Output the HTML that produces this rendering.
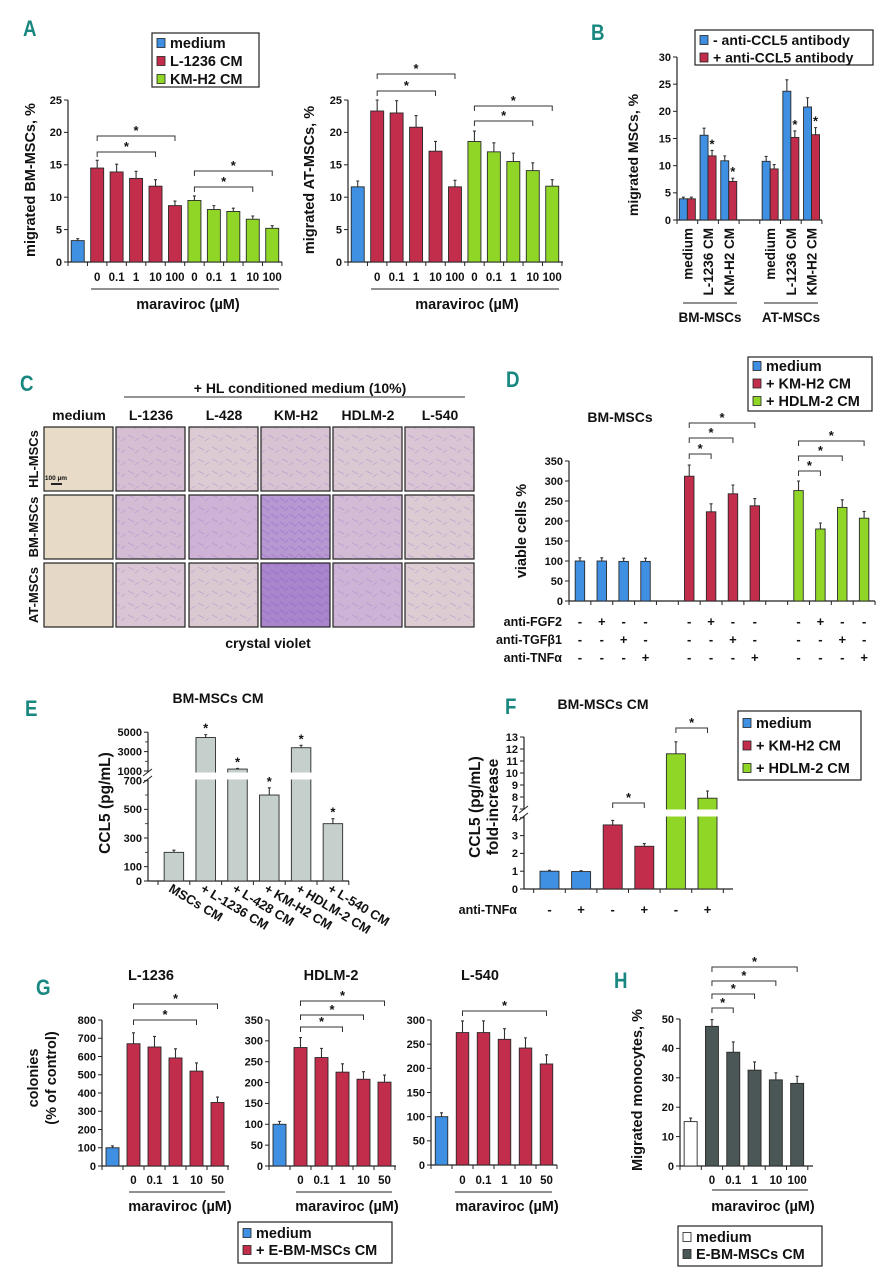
<!DOCTYPE html>
<html><head><meta charset="utf-8"><style>
html,body{margin:0;padding:0;background:#fff}
svg{display:block;font-family:"Liberation Sans",Arial,sans-serif;font-weight:bold}
</style></head><body>
<svg id="fig" width="890" height="1280" viewBox="0 0 890 1280" xmlns="http://www.w3.org/2000/svg">
<defs>
<pattern id="cells1" width="14" height="12" patternUnits="userSpaceOnUse"><path d="M2 3 l6 3 M9 9 l4 -3" stroke="#9a72c8" stroke-width="1" opacity=".6"/></pattern>
<pattern id="cells2" width="9" height="8" patternUnits="userSpaceOnUse"><path d="M1 2 l5 3 M6 7 l3 -3" stroke="#8a5cc4" stroke-width="1.1" opacity=".7"/></pattern>
</defs>
</svg>
<script>
// ---------- DATA ----------
const aCats = ['', '0', '0.1', '1', '10', '100', '0', '0.1', '1', '10', '100'];
const aYTicks = [0, 5, 10, 15, 20, 25];
const a1Vals = [3.3, 14.5, 13.9, 12.9, 11.7, 8.7, 9.5, 8.1, 7.8, 6.6, 5.2];
const a1Errs = [0.3, 1.2, 1.2, 1.1, 1.0, 0.7, 0.7, 0.6, 0.5, 0.5, 0.4];
const a2Vals = [11.6, 23.3, 23.0, 20.8, 17.1, 11.6, 18.6, 17.0, 15.5, 14.1, 11.7];
const a2Errs = [0.9, 1.7, 1.9, 1.8, 1.5, 1.0, 1.6, 1.4, 1.3, 1.2, 1.0];
const bCats = ['medium', 'L-1236 CM', 'KM-H2 CM', 'medium', 'L-1236 CM', 'KM-H2 CM'];
const bYTicks = [0, 5, 10, 15, 20, 25, 30];
const bMinus = [3.9, 15.6, 10.9, 10.8, 23.7, 20.8];
const bMinusErr = [0.3, 1.3, 0.9, 0.9, 2.1, 1.7];
const bPlus = [3.9, 11.8, 7.1, 9.4, 15.2, 15.7];
const bPlusErr = [0.3, 1.0, 0.6, 0.8, 1.2, 1.3];
const dYTicks = [0, 50, 100, 150, 200, 250, 300, 350];
const dVals = [100, 100, 99, 99, 312, 223, 268, 238, 276, 180, 234, 207];
const dErrs = [8, 8, 8, 8, 28, 20, 22, 18, 24, 15, 19, 17];
const dFGF2 = ['-', '+', '-', '-', '-', '+', '-', '-', '-', '+', '-', '-'];
const dTGFb1 = ['-', '-', '+', '-', '-', '-', '+', '-', '-', '-', '+', '-'];
const dTNFa = ['-', '-', '-', '+', '-', '-', '-', '+', '-', '-', '-', '+'];
const eCats = ['MSCs CM', '+ L-1236 CM', '+ L-428 CM', '+ KM-H2 CM', '+ HDLM-2 CM', '+ L-540 CM'];
const eYTicks = [0, 100, 300, 500, 700, 1000, 3000, 5000];
const eVals = [200, 4450, 1200, 600, 3400, 400];
const eErrs = [15, 300, 60, 50, 250, 35];
const fYTicks = [0, 1, 2, 3, 4, 7, 8, 9, 10, 11, 12, 13];
const fVals = [1.0, 0.98, 3.6, 2.4, 11.6, 7.9];
const fErrs = [0.05, 0.05, 0.25, 0.15, 1.0, 0.6];
const fTNFa = ['-', '+', '-', '+', '-', '+'];
const gCats = ['', '0', '0.1', '1', '10', '50'];
const g1YTicks = [0, 100, 200, 300, 400, 500, 600, 700, 800];
const g1Vals = [100, 670, 652, 592, 520, 348];
const g1Errs = [10, 60, 58, 50, 45, 30];
const g2YTicks = [0, 50, 100, 150, 200, 250, 300, 350];
const g2Vals = [100, 284, 260, 225, 208, 201];
const g2Errs = [7, 24, 22, 20, 18, 17];
const g3YTicks = [0, 50, 100, 150, 200, 250, 300];
const g3Vals = [100, 274, 274, 260, 242, 209];
const g3Errs = [8, 24, 24, 22, 21, 19];
const hCats = ['', '0', '0.1', '1', '10', '100'];
const hYTicks = [0, 10, 20, 30, 40, 50];
const hVals = [15.1, 47.5, 38.7, 32.6, 29.3, 28.1];
const hErrs = [1.2, 2.3, 3.5, 2.8, 2.4, 2.4];

// ---------- COLORS ----------
const BLUE = '#3f8fe3', RED = '#c22d4b', GREEN = '#90d626', GREY = '#c5cfcc', DARK = '#4b5656', TEAL = '#17877f';
const svg = document.getElementById('fig');
const NS = 'http://www.w3.org/2000/svg';
function mk(tag, attrs, parent) {
  const e = document.createElementNS(NS, tag);
  for (const k in attrs) e.setAttribute(k, attrs[k]);
  (parent || svg).appendChild(e);
  return e;
}
function txt(s, x, y, size, anchor, parent, extra) {
  const t = mk('text', Object.assign({x: x, y: y, 'font-size': size, 'text-anchor': anchor || 'middle', fill: '#111'}, extra || {}), parent);
  t.textContent = s;
  return t;
}
function group(name) {
  const g = mk('g', {});
  
  
  return g;
}
function line(x1, y1, x2, y2, parent, w, col) {
  return mk('line', {x1: x1, y1: y1, x2: x2, y2: y2, stroke: col || '#222', 'stroke-width': w || 1}, parent);
}
function panelLetter(s, x, y) {
  const t = txt(s, x, y, 22, 'start', svg, {fill: TEAL, transform: 'translate(' + x + ' ' + y + ') scale(0.85 1) translate(' + (-x) + ' ' + (-y) + ')'});
  
  
}
function ylabel(s, x, cy, g, size) {
  const t = txt(s, x, cy, size || 14, 'middle', g, {transform: 'rotate(-90 ' + x + ' ' + cy + ')'});
  
  
}
function bracket(x1, x2, y, g) {
  const p = mk('path', {d: 'M' + x1 + ' ' + (y + 5) + 'V' + y + 'H' + x2 + 'V' + (y + 5), fill: 'none', stroke: '#333', 'stroke-width': 1}, g);
  
  
  const s = txt('*', (x1 + x2) / 2, y - 1, 13, 'middle', g);
  
  
}
function legend(x, y, w, h, items, g, size, rowH, firstY) {
  const lg = mk('g', {}, g);
  
  
  mk('rect', {x: x, y: y, width: w, height: h, fill: '#fff', stroke: '#222', 'stroke-width': 1.2}, lg);
  items.forEach(function (it, i) {
    const cy = firstY + i * rowH;
    const ent = mk('g', {}, lg);
    
    
    mk('rect', {x: x + 5, y: cy - 4.5, width: 8, height: 9, fill: it[1], stroke: '#222', 'stroke-width': 0.8}, ent);
    txt(it[0], x + 18, cy + size * 0.36, size, 'start', ent);
  });
}
function chart(c) {
  const g = group(c.name);
  const ys = c.ys;
  line(c.ax, c.y0, c.ax, ys(c.yTicks[c.yTicks.length - 1]), g, 1.2);
  c.yTicks.forEach(function (t) {
    line(c.ax - 4, ys(t), c.ax, ys(t), g, 1);
    const tl = txt(String(t), c.ax - 6, ys(t) + 3.8, c.tickSize || 11, 'end', g);
    
    
  });
  (c.minor || []).forEach(function (t) { line(c.ax - 3, ys(t), c.ax, ys(t), g, 0.8); });
  line(c.ax, c.y0, c.axEnd, c.y0, g, 1.2);
  for (let k = 0; k <= c.nSlots; k++) {
    const xx = c.slot0 + k * c.sw;
    if (xx <= c.axEnd + 0.5) line(xx, c.y0, xx, c.y0 + 4, g, 1);
  }
  c.vals.forEach(function (v, i) {
    const slot = c.slots ? c.slots[i] : i;
    const cx = c.slot0 + c.sw * (slot + 0.5) + (c.offs ? c.offs[i] : 0);
    const top = ys(v);
    const r = mk('rect', {x: cx - c.bw / 2, y: top, width: c.bw, height: c.y0 - top, fill: c.cols[i], stroke: '#2a2a2a', 'stroke-width': 0.9}, g);
    
    
    if (c.breakAt !== undefined && v > c.breakAt) {
      mk('rect', {x: cx - c.bw / 2 - 1, y: c.breakY1, width: c.bw + 2, height: c.breakY2 - c.breakY1, fill: '#fff'}, g);
    }
    const et = ys(v + c.errs[i]);
    const eb = mk('path', {d: 'M' + cx + ' ' + top + 'V' + et + 'M' + (cx - 1.5) + ' ' + et + 'H' + (cx + 1.5), stroke: '#333', 'stroke-width': 1.1, fill: 'none'}, g);
    
    
    if (c.stars && c.stars[i]) {
      const s = txt('*', cx, et - 2, 13, 'middle', g);
      
      
    }
  });
  if (c.cats) {
    c.cats.forEach(function (s, i) {
      if (!s) return;
      const cx = c.slot0 + c.sw * (i + 0.5);
      const t = txt(s, cx, c.catY, c.catSize || 11.5, 'middle', g);
      
      
    });
  }
  c.cx = function (slot) { return c.slot0 + c.sw * (slot + 0.5); };
  c.g = g;
  return c;
}
function linScale(y0, yTop, max) { return function (v) { return y0 - v * (y0 - yTop) / max; }; }

// ---------- PANEL A ----------
panelLetter('A', 23, 36);
const aCols = [BLUE, RED, RED, RED, RED, RED, GREEN, GREEN, GREEN, GREEN, GREEN];
const a1 = chart({name: 'chart-a-bm-mscs', ax: 68, axEnd: 282, y0: 262, ys: linScale(262, 100, 25), yTicks: aYTicks,
  slot0: 68, sw: 19.45, nSlots: 11, bw: 13, vals: a1Vals, errs: a1Errs, cols: aCols, cats: aCats, catY: 281});
ylabel('migrated BM-MSCs, %', 35, 180, a1.g, 14.5);
line(91, 289, 279, 289, a1.g, 1);
txt('maraviroc (µM)', 188, 309, 14.5, 'middle', a1.g);
bracket(a1.cx(1), a1.cx(5), 136, a1.g);
bracket(a1.cx(1), a1.cx(4), 152, a1.g);
bracket(a1.cx(6), a1.cx(10), 171, a1.g);
bracket(a1.cx(6), a1.cx(9), 187, a1.g);
legend(152, 33, 107, 54, [['medium', BLUE], ['L-1236 CM', RED], ['KM-H2 CM', GREEN]], svg, 14.5, 18, 43);

const a2 = chart({name: 'chart-a-at-mscs', ax: 348, axEnd: 563, y0: 262, ys: linScale(262, 100, 25), yTicks: aYTicks,
  slot0: 348, sw: 19.45, nSlots: 11, bw: 13, vals: a2Vals, errs: a2Errs, cols: aCols, cats: aCats, catY: 281});
ylabel('migrated AT-MSCs, %', 314, 180, a2.g, 14.5);
line(371, 289, 559, 289, a2.g, 1);
txt('maraviroc (µM)', 467, 309, 14.5, 'middle', a2.g);
bracket(a2.cx(1), a2.cx(5), 74, a2.g);
bracket(a2.cx(1), a2.cx(4), 91, a2.g);
bracket(a2.cx(6), a2.cx(10), 106, a2.g);
bracket(a2.cx(6), a2.cx(9), 121, a2.g);

// ---------- PANEL B ----------
panelLetter('B', 591, 40);
const bAll = [], bAllErr = [], bSlots = [], bOffs = [], bCols = [], bStars = [];
const bSlotIdx = [0, 1, 2, 4, 5, 6];
for (let i = 0; i < bMinus.length; i++) {
  bAll.push(bMinus[i]); bAllErr.push(bMinusErr[i]); bSlots.push(bSlotIdx[i]); bOffs.push(-4); bCols.push(BLUE); bStars.push(false);
  bAll.push(bPlus[i]); bAllErr.push(bPlusErr[i]); bSlots.push(bSlotIdx[i]); bOffs.push(4); bCols.push(RED); bStars.push(i % 3 !== 0);
}
const b = chart({name: 'chart-b', ax: 677, axEnd: 822, y0: 220, ys: linScale(220, 57, 30), yTicks: bYTicks,
  slot0: 677, sw: 20.7, nSlots: 7, bw: 8, vals: bAll, errs: bAllErr, cols: bCols, slots: bSlots, offs: bOffs, stars: bStars});
ylabel('migrated MSCs, %', 638, 155, b.g, 14);
bCats.forEach(function (s, i) {
  const cx = b.cx(bSlotIdx[i]) + 5;
  const t = txt(s, cx, 228, 13.5, 'end', b.g, {transform: 'rotate(-90 ' + cx + ' 228)'});
  
  
});
line(683, 303, 737, 303, b.g, 1);
line(764, 303, 818, 303, b.g, 1);
txt('BM-MSCs', 710, 322, 13.5, 'middle', b.g);
txt('AT-MSCs', 791, 322, 13.5, 'middle', b.g);
legend(695, 30, 178, 35, [['- anti-CCL5 antibody', BLUE], ['+ anti-CCL5 antibody', RED]], svg, 14, 17.5, 40);

// ---------- PANEL C ----------
panelLetter('C', 20, 391);
const cg = group('micrograph-grid');
txt('+ HL conditioned medium (10%)', 300, 393, 14, 'middle', cg);
line(124, 397, 465, 397, cg, 1.3, '#555');
const cCols = ['medium', 'L-1236', 'L-428', 'KM-H2', 'HDLM-2', 'L-540'];
const cRows = ['HL-MSCs', 'BM-MSCs', 'AT-MSCs'];
const cX = [44, 116, 189, 261, 333, 405];
const cY = [427, 495, 563];
const cFill = [
  ['#e8dbc7', '#d6bfd3', '#ddcbd3', '#d8c3d3', '#dac8d3', '#d9c5d4'],
  ['#e7dac6', '#d4bcd5', '#ceb3d6', '#b798d1', '#d3bbd5', '#dccbd3'],
  ['#e6d8c6', '#d9c5d3', '#dbc9d2', '#a985cc', '#cdb3d6', '#ddcdd3']];
cCols.forEach(function (s, j) { txt(s, cX[j] + 35, 420, 14, 'middle', cg); });
cRows.forEach(function (s, i) {
  const y = cY[i] + 32;
  txt(s, 38, y, 13, 'middle', cg, {transform: 'rotate(-90 38 ' + y + ')'});
  cX.forEach(function (x, j) {
    const im = mk('rect', {x: x, y: cY[i], width: 69, height: 64, fill: cFill[i][j], stroke: '#222', 'stroke-width': 1.2}, cg);
    
    
    if (j > 0) mk('rect', {x: x + 1, y: cY[i] + 1, width: 67, height: 62, fill: (i > 0 && j === 3) ? 'url(#cells2)' : 'url(#cells1)', opacity: 0.55}, cg);
  });
});
line(51, 484, 62, 484, cg, 2);
txt('100 µm', 56, 480, 6.5, 'middle', cg);
txt('crystal violet', 268, 648, 14, 'middle', cg);

// ---------- PANEL D ----------
panelLetter('D', 506, 387);
const dCols = [BLUE, BLUE, BLUE, BLUE, RED, RED, RED, RED, GREEN, GREEN, GREEN, GREEN];
const dSlots = [0, 1, 2, 3, 5, 6, 7, 8, 10, 11, 12, 13];
const d = chart({name: 'chart-d', ax: 569, axEnd: 875, y0: 601, ys: linScale(601, 461, 350), yTicks: dYTicks,
  slot0: 569, sw: 21.86, nSlots: 14, bw: 9.5, vals: dVals, errs: dErrs, cols: dCols, slots: dSlots, tickSize: 11});
ylabel('viable cells %', 526, 531, d.g, 14.5);
txt('BM-MSCs', 620, 422, 14, 'middle', d.g);
[['anti-FGF2', dFGF2, 626], ['anti-TGFβ1', dTGFb1, 644], ['anti-TNFα', dTNFa, 662]].forEach(function (row) {
  txt(row[0], 562, row[2], 12.5, 'end', d.g);
  row[1].forEach(function (s, i) { txt(s, d.cx(dSlots[i]), row[2], 13, 'middle', d.g); });
});
bracket(d.cx(5), d.cx(6), 454, d.g);
bracket(d.cx(5), d.cx(7), 438, d.g);
bracket(d.cx(5), d.cx(8), 423, d.g);
bracket(d.cx(10), d.cx(11), 471, d.g);
bracket(d.cx(10), d.cx(12), 456, d.g);
bracket(d.cx(10), d.cx(13), 441, d.g);
legend(748, 357, 124, 54, [['medium', BLUE], ['+ KM-H2 CM', RED], ['+ HDLM-2 CM', GREEN]], svg, 14.5, 17.5, 366);

// ---------- PANEL E ----------
panelLetter('E', 25, 716);
const yE = function (v) { return v <= 700 ? 881 - v * 0.1433 : 771 - (v - 1000) * 0.0097; };
const e = chart({name: 'chart-e', ax: 148, axEnd: 349, y0: 881, ys: yE, yTicks: eYTicks, minor: [200, 400, 600, 2000, 4000],
  slot0: 158, sw: 31.8, nSlots: 6, bw: 19.5, vals: eVals, errs: eErrs, cols: [GREY, GREY, GREY, GREY, GREY, GREY],
  stars: [false, true, true, true, true, true], tickSize: 11, breakAt: 700, breakY1: 772.5, breakY2: 779.5});
mk('rect', {x: 144, y: 772.5, width: 8, height: 7, fill: '#fff'}, e.g);
line(143, 776, 152, 769, e.g, 1);
line(143, 783, 152, 776, e.g, 1);
ylabel('CCL5 (pg/mL)', 110, 803, e.g, 15.5);
txt('BM-MSCs CM', 218, 703, 14, 'middle', e.g);
eCats.forEach(function (s, i) {
  const x = e.cx(i) - 6, y = 891;
  const t = txt(s, x, y, 13, 'start', e.g, {transform: 'rotate(31 ' + x + ' ' + y + ')'});
  
  
});

// ---------- PANEL F ----------
panelLetter('F', 505, 714);
const yF = function (v) { return v <= 4 ? 889 - v * 17.8 : 797 - (v - 8) * 12; };
const f = chart({name: 'chart-f', ax: 524, axEnd: 733, y0: 889, ys: yF, yTicks: fYTicks,
  slot0: 533.7, sw: 31.6, nSlots: 6, bw: 19, vals: fVals, errs: fErrs, cols: [BLUE, BLUE, RED, RED, GREEN, GREEN], tickSize: 11,
  breakAt: 4, breakY1: 809.5, breakY2: 816.5});
mk('rect', {x: 520, y: 809.5, width: 8, height: 7, fill: '#fff'}, f.g);
line(519, 813, 528, 806, f.g, 1);
line(519, 820, 528, 813, f.g, 1);
ylabel('CCL5 (pg/mL)', 480, 807, f.g, 15.5);
ylabel('fold-increase', 498, 807, f.g, 15.5);
txt('BM-MSCs CM', 603, 709, 14, 'middle', f.g);
txt('anti-TNFα', 517, 914, 12.5, 'end', f.g);
fTNFa.forEach(function (s, i) { txt(s, f.cx(i), 914, 13, 'middle', f.g); });
bracket(f.cx(2), f.cx(3), 803, f.g);
bracket(f.cx(4), f.cx(5), 728, f.g);
legend(738, 711, 123, 69, [['medium', BLUE], ['+ KM-H2 CM', RED], ['+ HDLM-2 CM', GREEN]], svg, 14.5, 22.5, 723);

// ---------- PANEL G ----------
panelLetter('G', 36, 995);
const gCols = [BLUE, RED, RED, RED, RED, RED];
const g1 = chart({name: 'chart-g-l1236', ax: 102, axEnd: 229, y0: 1166, ys: linScale(1166, 1020, 800), yTicks: g1YTicks,
  slot0: 102, sw: 21, nSlots: 6, bw: 13, vals: g1Vals, errs: g1Errs, cols: gCols, cats: gCats, catY: 1184});
ylabel('colonies', 38, 1078, g1.g, 14.5);
ylabel('(% of control)', 56, 1078, g1.g, 14.5);
txt('L-1236', 151, 980, 14.5, 'middle', g1.g);
line(129, 1192, 225, 1192, g1.g, 1);
txt('maraviroc (µM)', 180, 1211, 14.5, 'middle', g1.g);
bracket(g1.cx(1), g1.cx(4), 1020, g1.g);
bracket(g1.cx(1), g1.cx(5), 1004, g1.g);

const g2 = chart({name: 'chart-g-hdlm2', ax: 269, axEnd: 396, y0: 1166, ys: linScale(1166, 1020, 350), yTicks: g2YTicks,
  slot0: 269, sw: 21, nSlots: 6, bw: 13, vals: g2Vals, errs: g2Errs, cols: gCols, cats: gCats, catY: 1184});
txt('HDLM-2', 331, 980, 14.5, 'middle', g2.g);
line(296, 1192, 392, 1192, g2.g, 1);
txt('maraviroc (µM)', 347, 1211, 14.5, 'middle', g2.g);
bracket(g2.cx(1), g2.cx(3), 1027, g2.g);
bracket(g2.cx(1), g2.cx(4), 1015, g2.g);
bracket(g2.cx(1), g2.cx(5), 1001, g2.g);

const g3 = chart({name: 'chart-g-l540', ax: 431, axEnd: 557, y0: 1165, ys: linScale(1165, 1020, 300), yTicks: g3YTicks,
  slot0: 431, sw: 21, nSlots: 6, bw: 12.5, vals: g3Vals, errs: g3Errs, cols: gCols, cats: gCats, catY: 1184});
txt('L-540', 480, 980, 14.5, 'middle', g3.g);
line(455, 1192, 552, 1192, g3.g, 1);
txt('maraviroc (µM)', 507, 1211, 14.5, 'middle', g3.g);
bracket(g3.cx(1), g3.cx(5), 1011, g3.g);
legend(238, 1222, 154, 41, [['medium', BLUE], ['+ E-BM-MSCs CM', RED]], svg, 14.5, 17, 1233);

// ---------- PANEL H ----------
panelLetter('H', 614, 988);
const h = chart({name: 'chart-h', ax: 680, axEnd: 813, y0: 1166, ys: linScale(1166, 1019, 50), yTicks: hYTicks,
  slot0: 680, sw: 21.3, nSlots: 6, bw: 13, vals: hVals, errs: hErrs, cols: ['#ffffff', DARK, DARK, DARK, DARK, DARK], cats: hCats, catY: 1184});
ylabel('Migrated monocytes, %', 642, 1090, h.g, 14.5);
line(712, 1190, 808, 1190, h.g, 1);
txt('maraviroc (µM)', 763, 1211, 14.5, 'middle', h.g);
bracket(h.cx(1), h.cx(2), 1008, h.g);
bracket(h.cx(1), h.cx(3), 994, h.g);
bracket(h.cx(1), h.cx(4), 981, h.g);
bracket(h.cx(1), h.cx(5), 967, h.g);
legend(678, 1226, 144, 40, [['medium', '#ffffff'], ['E-BM-MSCs CM', DARK]], svg, 14.5, 17, 1237);
</script>
</body></html>
